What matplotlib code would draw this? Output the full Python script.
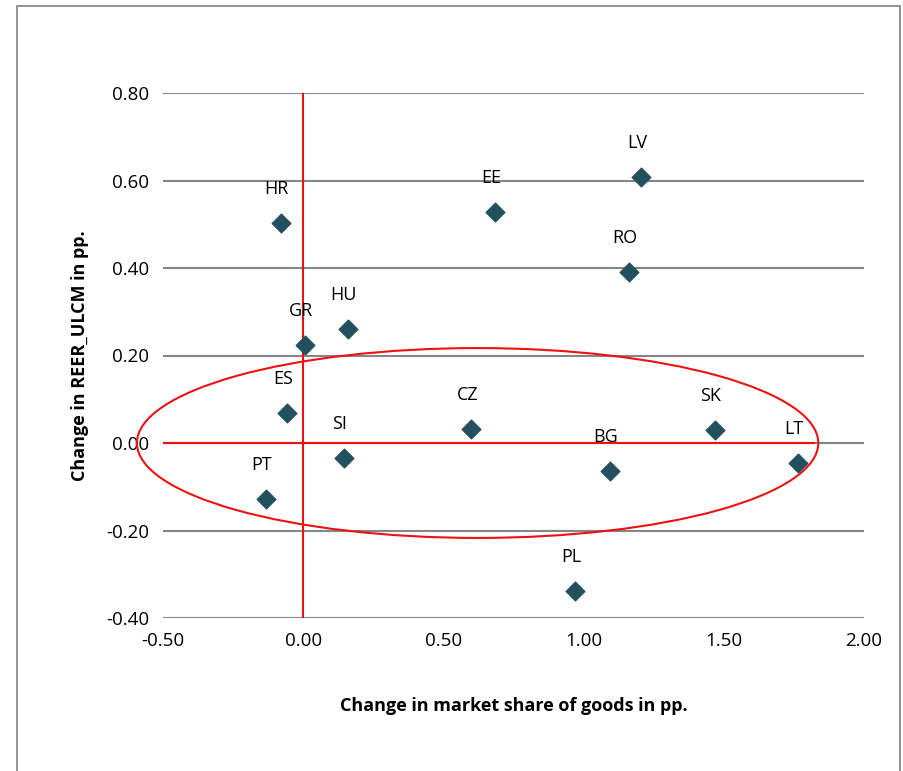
import matplotlib
matplotlib.use("Agg")
import matplotlib.pyplot as plt
from matplotlib.patches import Ellipse, Rectangle

countries = ["HR","EE","LV","RO","HU","GR","ES","CZ","SK","SI","BG","LT","PT","PL"]
market_share = [-0.08,0.685,1.205,1.163,0.16,0.007,-0.057,0.6,1.468,0.146,1.095,1.765,-0.132,0.97]
reer_ulcm = [0.503,0.528,0.608,0.391,0.261,0.224,0.069,0.032,0.030,-0.034,-0.064,-0.046,-0.128,-0.338]

W, H = 904, 771
fig = plt.figure(figsize=(W/100, H/100), dpi=100)
plt.rcParams['font.family'] = ['Open Sans', 'DejaVu Sans']
fig.patches.append(Rectangle((17/W, -0.01), 883/W, 1 - 6/H + 0.01, transform=fig.transFigure,
                             fill=False, edgecolor='#808080', lw=1.2))
ax = fig.add_axes([163/W, 1-618/H, (864-163)/W, (618-93)/H])
ax.set_xlim(-0.5, 2.0)
ax.set_ylim(-0.4, 0.8)
for s in ax.spines.values():
    s.set_visible(False)
ax.set_yticks([-0.4,-0.2,0,0.2,0.4,0.6,0.8])
ax.set_yticklabels([f"{v:.2f}" for v in ax.get_yticks()])
ax.set_xticks([-0.5,0,0.5,1,1.5,2])
ax.set_xticklabels([f"{v:.2f}" for v in ax.get_xticks()])
ax.tick_params(length=0, labelsize=13.5, pad=10)
ax.grid(axis='y', color='#868686', lw=1.5)
ax.set_axisbelow(True)
ax.plot([0,0],[-0.4,0.8], color='#ee1111', lw=1.5)
ax.plot([-0.5,1.82],[0,0], color='#ee1111', lw=1.5)
ax.add_patch(Ellipse((0.622,0.0), 2.43, 0.434, fill=False, edgecolor='#ee1111', lw=1.5, clip_on=False))
ax.scatter(market_share, reer_ulcm, marker='D', s=90, color='#23505f', zorder=3)
for c, x, y in zip(countries, market_share, reer_ulcm):
    ax.annotate(c, (x, y), xytext=(-3, 18), textcoords='offset points', ha='center', va='bottom', fontsize=13)
ax.set_xlabel("Change in market share of goods in pp.", fontsize=13, fontweight='bold', labelpad=34)
ax.set_ylabel("Change in REER_ULCM in pp.", fontsize=13, fontweight='bold', labelpad=12)
fig.savefig("out.png", dpi=100)
